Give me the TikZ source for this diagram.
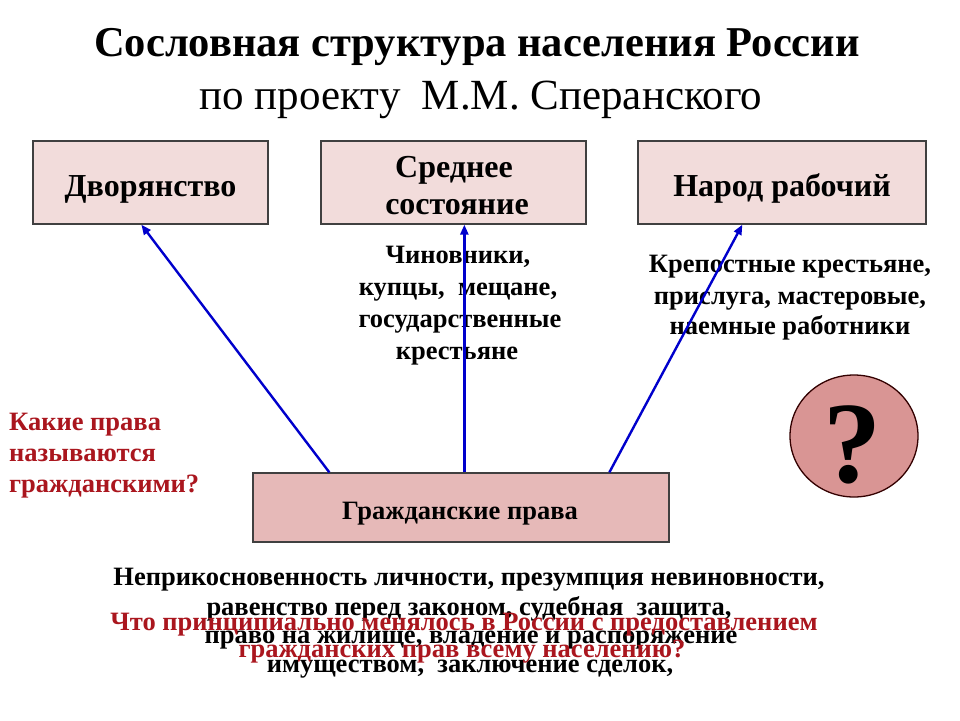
\documentclass[tikz,border=0pt]{standalone}
\usepackage{fontspec}
\setmainfont{Liberation Serif}
\usetikzlibrary{arrows.meta,shapes.geometric}
\definecolor{boxpink}{RGB}{242,220,219}
\definecolor{boxrose}{RGB}{230,185,184}
\definecolor{qrose}{RGB}{217,149,148}
\definecolor{edgegray}{RGB}{64,64,64}
\definecolor{arrblue}{RGB}{0,0,204}
\definecolor{qred}{RGB}{170,22,30}
\newcommand{\fs}[1]{\fontsize{#1}{#1}\selectfont}
\tikzset{
  topbox/.style={draw=edgegray, line width=1.3pt, fill=boxpink, inner sep=0pt, minimum height=83pt},
  txt/.style={inner sep=0pt, anchor=base, font=\bfseries\fs{26.5}},
  boxtxt/.style={txt, font=\bfseries\fs{32}},
  redtxt/.style={txt, text=qred},
  arr/.style={draw=arrblue, line width=2.4pt, -{Triangle[length=10pt,width=8pt]}}
}
\begin{document}
\begin{tikzpicture}[x=1pt,y=-1pt]
\useasboundingbox[fill=white] (0,0) rectangle (960,720);
% title
\node[txt, font=\bfseries\fs{42.5}] (t1) at (477,56) {Сословная структура населения России};
\node[txt, font=\fs{43}] (t2) at (481,109) {по проекту\ \ М.М. Сперанского};
% top boxes
\node[topbox, minimum width=235pt] (dv) at (150.5,182.5) {};
\node[boxtxt] (dvt) at (150.5,196) {Дворянство};
\node[topbox, minimum width=265pt] (sr) at (453.5,182.5) {};
\node[boxtxt] (srt1) at (454,177) {Среднее};
\node[boxtxt] (srt2) at (457,214) {состояние};
\node[topbox, minimum width=288pt] (nr) at (782,182.5) {};
\node[boxtxt] (nrt) at (782,196) {Народ рабочий};
% lists
\node[txt] (c1) at (458,263) {Чиновники,};
\node[txt] (c2) at (458,295) {купцы,\ \ мещане,};
\node[txt] (c3) at (460,327) {государственные};
\node[txt] (c4) at (457,359) {крестьяне};
\node[txt] (k1) at (790,272) {Крепостные крестьяне,};
\node[txt] (k2) at (790,304) {прислуга, мастеровые,};
\node[txt] (k3) at (790,334) {наемные работники};
% left question
\node[redtxt, anchor=base west] (q1) at (9,430) {Какие права};
\node[redtxt, anchor=base west] (q2) at (9,461) {называются};
\node[redtxt, anchor=base west] (q3) at (9,492) {гражданскими?};
% question circle
\node[draw=black!80!red, line width=1.3pt, fill=qrose, ellipse, minimum width=128pt, minimum height=122pt, inner sep=0pt] (qc) at (854,436) {};
\node[txt, font=\bfseries\fs{116}] (qm) at (852,482) {?};
% civil rights box
\node[draw=edgegray, line width=1.3pt, fill=boxrose, inner sep=0pt, minimum width=416pt, minimum height=69pt] (gp) at (461,507.5) {};
\node[txt] (gpt) at (460,519) {Гражданские права};
% arrows
\draw[arr] ([xshift=77pt]gp.north west) -- ([xshift=109pt]dv.south west);
\draw[arr] ([xshift=212pt]gp.north west) -- ([xshift=144pt]sr.south west);
\draw[arr] ([xshift=357pt]gp.north west) -- ([xshift=105pt]nr.south west);
% bottom text
\node[txt] (b1) at (469,585) {Неприкосновенность личности, презумпция невиновности,};
\node[txt] (b2) at (469,615) {равенство перед законом, судебная\ \ защита,};
\node[txt] (b3) at (471,643) {право на жилище, владение и распоряжение};
\node[txt] (b4) at (470,672) {имуществом,\ \ заключение сделок,};
\node[redtxt] (r1) at (464,630) {Что принципиально менялось в России с предоставлением};
\node[redtxt] (r2) at (462,657) {гражданских прав всему населению?};
\end{tikzpicture}
\end{document}
